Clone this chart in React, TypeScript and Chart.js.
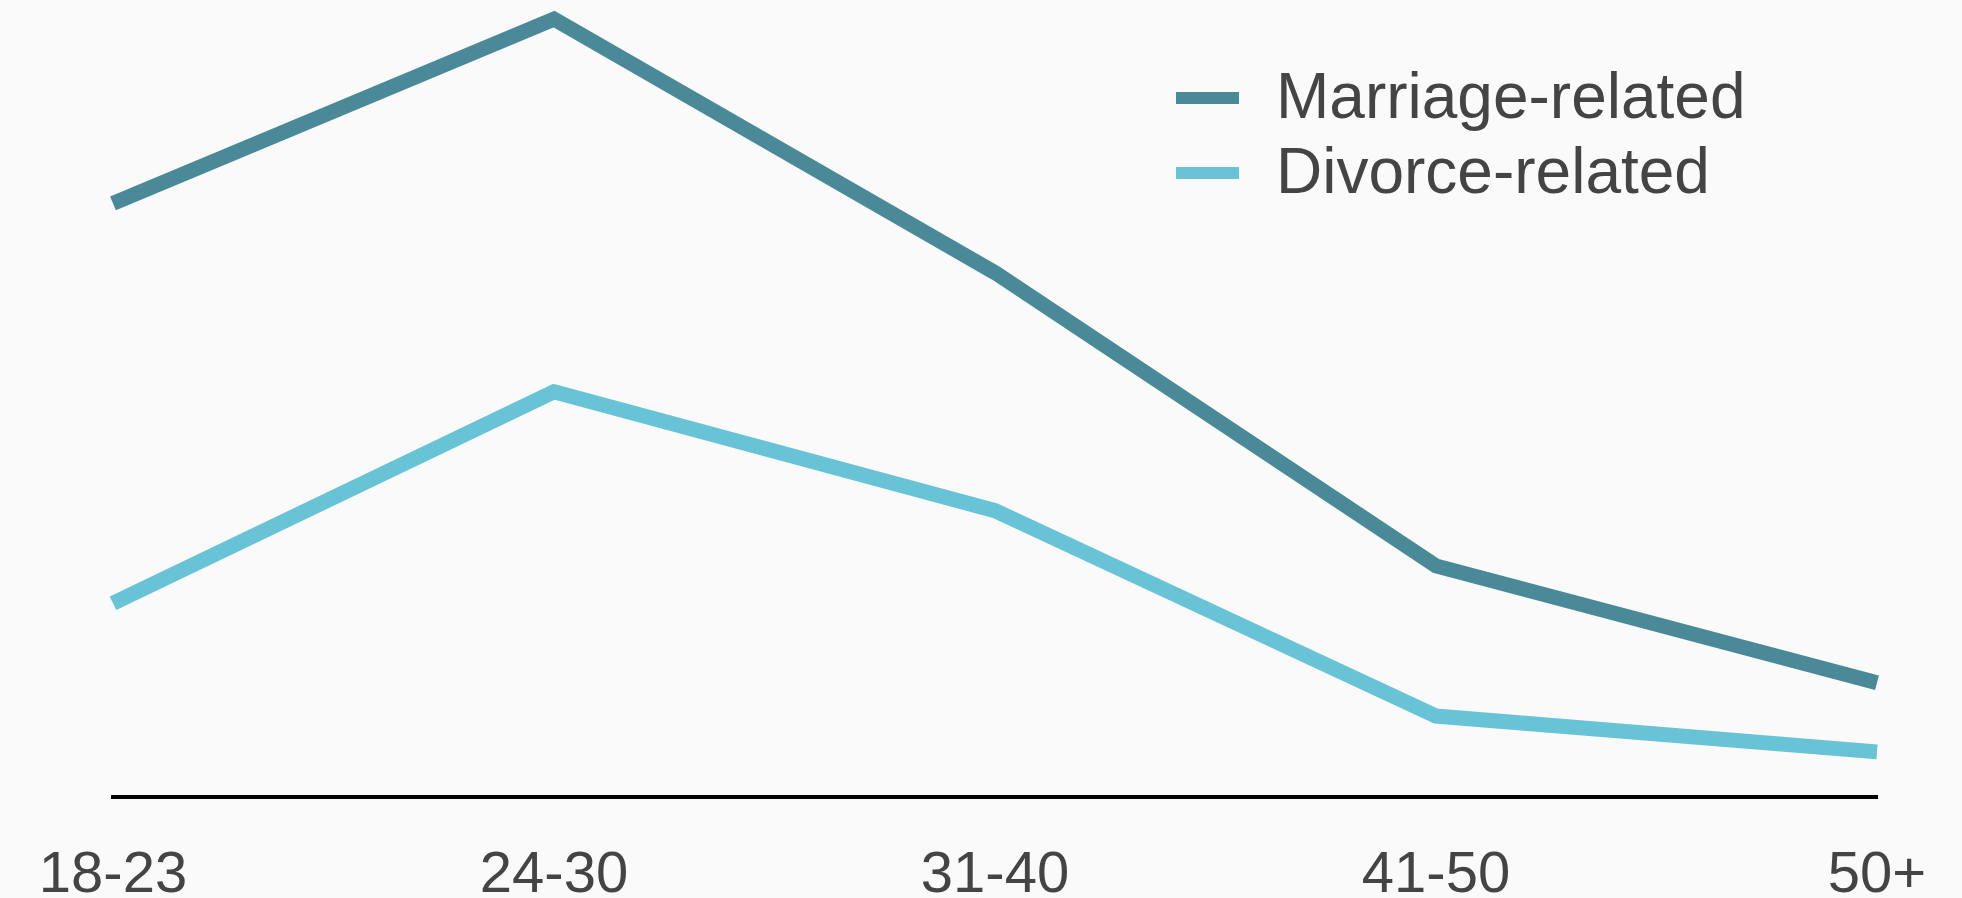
import React, { useEffect, useRef } from "react";
import { Chart, registerables } from "chart.js";

Chart.register(...registerables);

const categories = ["18-23", "24-30", "31-40", "41-50", "50+"];
const marriageValues = [76.3, 100, 67.4, 29.7, 14.7];
const divorceValues = [24.9, 52.1, 36.8, 10.4, 5.8];
const seriesLabels = ["Marriage-related", "Divorce-related"];

const MARRIAGE_COLOR = "#4a8a98";
const DIVORCE_COLOR = "#68c3d6";
const TEXT_COLOR = "#444444";
const FONT = "'Liberation Sans', Arial, Helvetica, sans-serif";

const legendPlugin = {
  id: "lineLegend",
  afterDraw(chart: any, _args: any, opts: any) {
    const ctx = chart.ctx;
    ctx.save();
    chart.data.datasets.forEach((ds: any, i: number) => {
      const y = opts.y + i * opts.rowGap;
      ctx.strokeStyle = ds.borderColor;
      ctx.lineWidth = opts.markerWidth;
      ctx.lineCap = "butt";
      ctx.beginPath();
      ctx.moveTo(opts.x, y);
      ctx.lineTo(opts.x + opts.markerLength, y);
      ctx.stroke();
      ctx.fillStyle = TEXT_COLOR;
      ctx.font = `${opts.fontSize}px ${FONT}`;
      ctx.textBaseline = "middle";
      ctx.textAlign = "left";
      ctx.fillText(ds.label, opts.x + opts.markerLength + opts.textGap, y + 2);
    });
    ctx.restore();
  },
};

export default function App() {
  const canvasRef = useRef<HTMLCanvasElement | null>(null);

  useEffect(() => {
    const canvas = canvasRef.current;
    if (!canvas) return;
    const lineStyle = {
      borderWidth: 15,
      pointRadius: 0,
      pointHoverRadius: 0,
      tension: 0,
      clip: false as any,
      borderJoinStyle: "miter" as const,
      borderCapStyle: "butt" as const,
    };
    const chart = new Chart(canvas, {
      type: "line",
      data: {
        labels: categories,
        datasets: [
          {
            label: seriesLabels[0],
            data: marriageValues,
            borderColor: MARRIAGE_COLOR,
            backgroundColor: MARRIAGE_COLOR,
            ...lineStyle,
          },
          {
            label: seriesLabels[1],
            data: divorceValues,
            borderColor: DIVORCE_COLOR,
            backgroundColor: DIVORCE_COLOR,
            ...lineStyle,
          },
        ],
      },
      options: {
        responsive: false,
        animation: false,
        layout: { autoPadding: false, padding: { left: 113, right: 85, top: 19, bottom: 0 } } as any,
        plugins: {
          legend: { display: false },
          tooltip: { enabled: false },
          lineLegend: {
            x: 1176,
            y: 98,
            rowGap: 75,
            markerLength: 63,
            markerWidth: 12,
            textGap: 37,
            fontSize: 64,
          },
        } as any,
        scales: {
          x: {
            type: "category",
            offset: false,
            grid: { display: false, drawTicks: true, tickLength: 50 },
            border: { display: true, color: "#000000", width: 4 },
            ticks: {
              color: TEXT_COLOR,
              font: { family: FONT, size: 58, lineHeight: 1 },
              padding: 0,
              maxRotation: 0,
              autoSkip: false,
            },
            afterFit: (scale: any) => {
              scale.height = 101;
            },
          },
          y: {
            display: false,
            min: 0,
            max: 100,
          },
        },
      },
      plugins: [legendPlugin],
    });
    return () => chart.destroy();
  }, []);

  return (
    <div
      style={{
        position: "fixed",
        left: 0,
        top: 0,
        width: 1962,
        height: 898,
        background: "#fafafa",
      }}
    >
      <canvas ref={canvasRef} width={1962} height={898} style={{ width: 1962, height: 898, display: "block" }} />
    </div>
  );
}
